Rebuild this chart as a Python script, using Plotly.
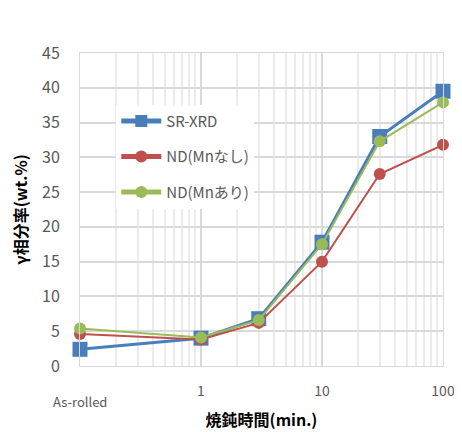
import plotly.graph_objects as go

x_vals = [0.1, 1, 3, 10, 30, 100]
sr_xrd = [2.4, 4.0, 6.8, 17.8, 33.0, 39.5]
nd_no_mn = [4.6, 3.8, 6.2, 15.0, 27.6, 31.8]
nd_mn = [5.4, 4.1, 6.6, 17.5, 32.3, 37.9]
x_tick_vals = [1, 10, 100]
x_tick_text = ["1", "10", "100"]
as_rolled_label = "As-rolled"

FONT = "Noto Sans CJK JP, Noto Sans, sans-serif"
GRAY = "#595959"
GRID = "#d9d9d9"

fig = go.Figure()
fig.add_trace(go.Scatter(x=x_vals, y=sr_xrd, name="SR-XRD", mode="lines+markers",
                         line=dict(color="#4A7EBB", width=3),
                         marker=dict(symbol="square", size=15, color="#4A7EBB"),
                         legendgroup="a", cliponaxis=False))
fig.add_trace(go.Scatter(x=x_vals, y=nd_no_mn, name="ND(Mnなし)", mode="lines+markers",
                         line=dict(color="#C0504D", width=2),
                         marker=dict(symbol="circle", size=12, color="#C0504D"),
                         legendgroup="b", cliponaxis=False))
fig.add_trace(go.Scatter(x=x_vals, y=nd_mn, name="ND(Mnあり)", mode="lines+markers",
                         line=dict(color="#9BBB59", width=2),
                         marker=dict(symbol="circle", size=12, color="#9BBB59"),
                         legendgroup="c", cliponaxis=False))

fig.update_layout(
    width=454, height=424,
    margin=dict(l=72, r=19, t=45, b=66),
    paper_bgcolor="white", plot_bgcolor="white",
    font=dict(family=FONT, color=GRAY),
    showlegend=True,
    legend=dict(x=0.1, y=0.835, xanchor="left", yanchor="top",
                bgcolor="white", font=dict(size=15, color=GRAY, family=FONT),
                tracegroupgap=13, itemwidth=40, itemsizing="constant"),
    xaxis=dict(type="log", range=[-1, 2], tickmode="array",
               tickvals=x_tick_vals, ticktext=x_tick_text,
               tickfont=dict(size=14, color=GRAY), ticks="", automargin=False,
               ticklabelstandoff=12,
               showgrid=True, gridcolor=GRID, gridwidth=1.5,
               minor=dict(showgrid=True, gridcolor="#ebebeb", dtick="D1", ticks=""),
               showline=True, linecolor=GRID, mirror=True, zeroline=False,
               title=dict(text="<b>焼鈍時間(min.)</b>", font=dict(size=16, color="black", family=FONT),
                          standoff=16)),
    yaxis=dict(range=[0, 45], dtick=5, tickfont=dict(size=16, color=GRAY), ticks="",
               automargin=False, ticklabelstandoff=16,
               showgrid=True, gridcolor=GRID, gridwidth=1.5,
               showline=True, linecolor=GRID, mirror=True, zeroline=False,
               title=dict(text="<b>γ相分率(wt.%)</b>", font=dict(size=16, color="black", family=FONT),
                          standoff=12)),
)

fig.add_annotation(x=0, y=0, xref="paper", yref="paper", text=as_rolled_label,
                   showarrow=False, xanchor="center", yanchor="top", yshift=-24,
                   font=dict(size=13, color=GRAY, family=FONT))

fig.write_html("out.html")
